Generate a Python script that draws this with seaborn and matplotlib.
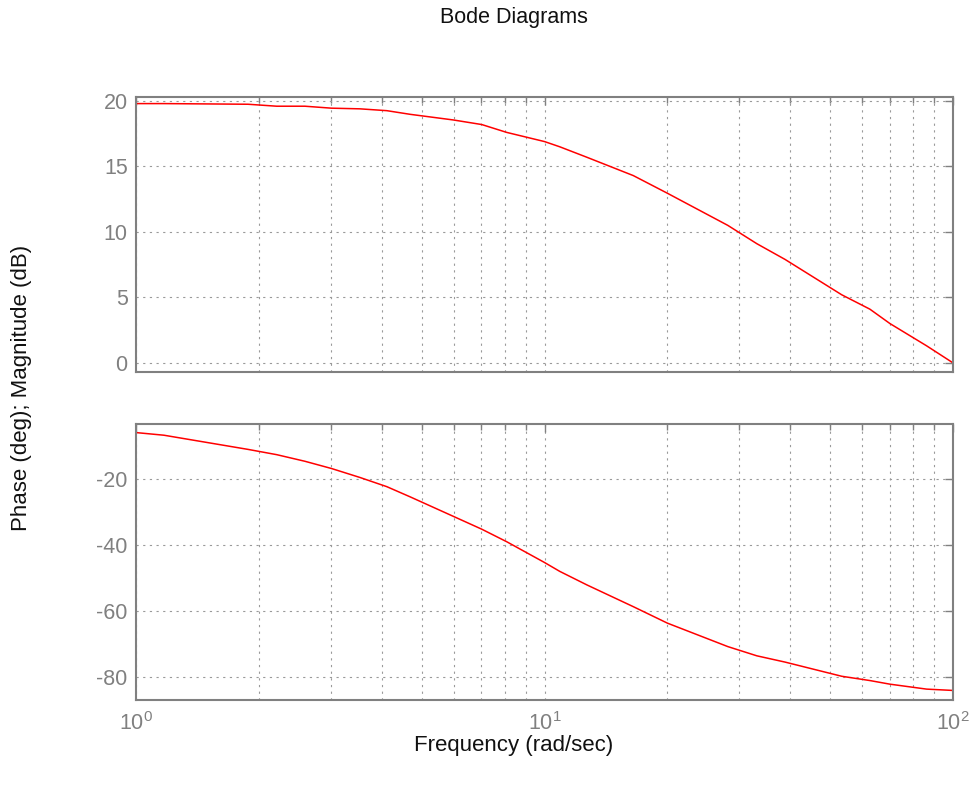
import numpy as np
import pandas as pd
import seaborn as sns
from matplotlib import pyplot as plt

# values
freq = [1, 1.17, 1.88, 2.21, 2.59, 3.01, 3.53, 4.11, 4.69, 5.98, 7.02, 8.08,
        10, 10.9, 12.7, 16.5, 20, 28.1, 33.1, 38.8, 53.4, 62.6, 70.1, 86.2, 100]
mag_db = [19.8, 19.8, 19.75, 19.6, 19.6, 19.45, 19.4, 19.26, 18.98, 18.55, 18.2, 17.6,
          16.9, 16.5, 15.7, 14.3, 12.95, 10.5, 9.1, 7.9, 5.2, 4.1, 3.0, 1.3, 0.0]
phase_deg = [-5.9, -6.7, -11.0, -12.6, -14.6, -16.8, -19.5, -22.3, -25.4, -31.3, -35.2, -39.0,
             -45.3, -48.0, -52.1, -58.7, -63.7, -70.8, -73.6, -75.5, -79.8, -81.1, -82.2, -83.7, -84.1]
mag_ticks = [0, 5, 10, 15, 20]
phase_ticks = [-80, -60, -40, -20]

df = pd.DataFrame({'freq': freq, 'mag': mag_db, 'phase': phase_deg})

sns.set_style('white')
plt.rcParams['font.family'] = ['Liberation Sans', 'DejaVu Sans']
plt.rcParams['axes.unicode_minus'] = False
plt.rcParams['mathtext.fontset'] = 'custom'
plt.rcParams['mathtext.rm'] = 'Liberation Sans'

gray = '#808080'
fig = plt.figure(figsize=(9.79, 7.89), dpi=100)
ax1 = fig.add_axes([0.139, 0.5285, 0.8344, 0.3485])
ax2 = fig.add_axes([0.139, 0.1128, 0.8344, 0.3498], sharex=ax1)

sns.lineplot(data=df, x='freq', y='mag', ax=ax1, color='red', lw=1.1)
sns.lineplot(data=df, x='freq', y='phase', ax=ax2, color='red', lw=1.1)

for ax in (ax1, ax2):
    ax.set_xscale('log')
    ax.set_xlim(1, 100)
    ax.set_xlabel('')
    ax.set_ylabel('')
    ax.grid(True, which='major', axis='both', color='#9a9a9a', ls=(0, (2, 4)), lw=0.8)
    ax.grid(True, which='minor', axis='x', color='#9a9a9a', ls=(0, (2, 4)), lw=0.8)
    for sp in ax.spines.values():
        sp.set_color(gray)
        sp.set_linewidth(1.5)
    ax.tick_params(which='both', direction='in', top=True, right=True,
                   colors=gray, labelsize=15.5, width=1)
    ax.tick_params(which='major', length=6, pad=6)
    ax.tick_params(which='minor', length=4)
    ax.tick_params(axis='x', which='major', pad=9)

ax1.set_ylim(-0.7, 20.3)
ax1.set_yticks(mag_ticks)
ax1.tick_params(labelbottom=False)
ax2.set_ylim(-87, -3.3)
ax2.set_yticks(phase_ticks)

fig.text(0.525, 0.978, 'Bode Diagrams', ha='center', va='center', fontsize=15.5, color='#111111')
fig.text(0.022, 0.508, 'Phase (deg); Magnitude (dB)', rotation=90, ha='center', va='center',
         fontsize=16, color='#111111')
fig.text(0.525, 0.055, 'Frequency (rad/sec)', ha='center', va='center', fontsize=16, color='#111111')

fig.savefig('out.png', dpi=100)
